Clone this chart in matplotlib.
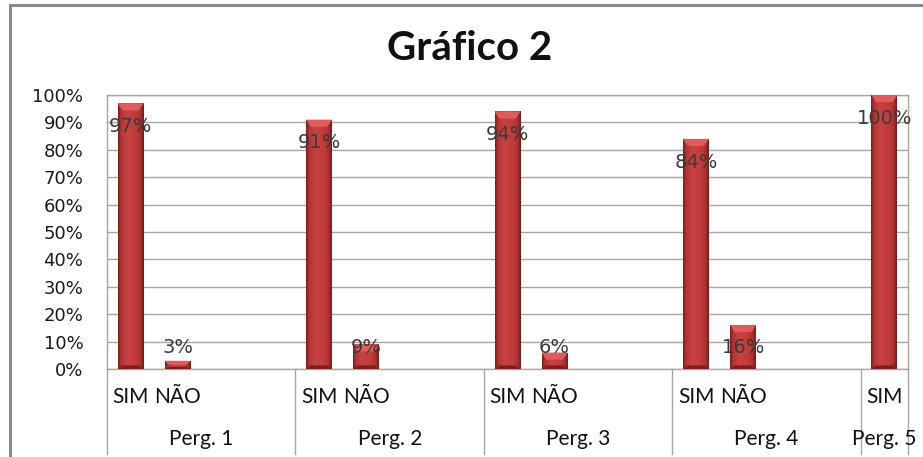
import numpy as np
import matplotlib
matplotlib.use("Agg")
import matplotlib.pyplot as plt
from matplotlib.colors import LinearSegmentedColormap
from matplotlib.patches import Rectangle, Polygon

# data
groups = ["Perg. 1", "Perg. 2", "Perg. 3", "Perg. 4", "Perg. 5"]
sim = [97, 91, 94, 84, 100]
nao = [3, 9, 6, 16, None]
slots_per_group = [4, 4, 4, 4, 1]

# build the flat category list (Excel style multi-level axis)
cat_labels = []
values = []
group_starts = []
for g, n in enumerate(slots_per_group):
    group_starts.append(len(cat_labels))
    cat_labels.append("SIM")
    values.append(sim[g])
    if n > 1:
        cat_labels.append("NÃO")
        values.append(nao[g])
        for k in range(n - 2):
            cat_labels.append("")
            values.append(None)
ncat = len(cat_labels)
x = np.arange(ncat)

W, H = 923, 457
fig = plt.figure(figsize=(W / 100, H / 100), dpi=100)
fig.patch.set_facecolor("white")

# outer chart frame (cut off on the right/bottom like the original)
fig.patches.append(Rectangle((10 / W, -0.1), 1.2, 1 - 5 / H + 0.1, transform=fig.transFigure,
                             fill=False, edgecolor="#8a8a8a", linewidth=2.2))

ax = fig.add_axes([107 / W, 1 - 369 / H, (908 - 107) / W, (369 - 95) / H])
ax.set_xlim(-0.5, ncat - 0.5)
ax.set_ylim(0, 100)

# gradient for the bevelled bar look
cmap = LinearSegmentedColormap.from_list(
    "barshade",
    [(0.0, "#7a1c1c"), (0.12, "#b23434"), (0.35, "#c94242"), (0.7, "#c23b3b"),
     (0.88, "#ab3030"), (1.0, "#761a1a")])
grad = np.linspace(0, 1, 128).reshape(1, -1)
bw = 0.55
for xi, v in zip(x, values):
    if v is None:
        continue
    b = ax.bar(xi, v, width=bw, color="#c23a3a", zorder=3)[0]
    im = ax.imshow(grad, cmap=cmap, aspect="auto", extent=(xi - bw / 2, xi + bw / 2, 0, v),
                   zorder=4, interpolation="bilinear")
    im.set_clip_path(b)
    bev = min(2.6, v * 0.5)
    ax.add_patch(Polygon([(xi - bw / 2, v), (xi + bw / 2, v), (xi + bw / 2 - 0.1, v - bev),
                          (xi - bw / 2 + 0.1, v - bev)], closed=True,
                         facecolor="#e05b5b", edgecolor="none", zorder=5))
    ax.add_patch(Polygon([(xi - bw / 2, 0), (xi + bw / 2, 0), (xi + bw / 2 - 0.1, bev * 0.5),
                          (xi - bw / 2 + 0.1, bev * 0.5)], closed=True,
                         facecolor="#7e1d1d", edgecolor="none", zorder=5))
    if cat_labels[xi] == "SIM":
        ly = v - 8.5
    else:
        ly = 7.7
    ax.text(xi, ly, "%d%%" % v, ha="center", va="center", fontsize=14,
            color="#3a3a3a", family="DejaVu Sans", zorder=6)

ax.set_yticks(np.arange(0, 101, 10))
ax.set_yticklabels(["%d%%" % t for t in range(0, 101, 10)], fontsize=13, family="DejaVu Sans", color="#1a1a1a")
ax.tick_params(axis="y", length=0, pad=17)
ax.yaxis.grid(True, color="#a6a6a6", linewidth=1)
ax.set_axisbelow(True)
for s in ax.spines.values():
    s.set_color("#a6a6a6")
    s.set_linewidth(1)

ax.set_xticks(x)
ax.set_xticklabels(cat_labels, fontsize=15, family="Lato", color="#111111")
ax.tick_params(axis="x", length=0, pad=13)

# group dividers and group labels
trans = ax.get_xaxis_transform()
bounds = group_starts + [ncat]
for b in bounds:
    ax.plot([b - 0.5, b - 0.5], [0, -0.31], transform=trans, color="#a6a6a6",
            linewidth=1, clip_on=False)
for g, name in enumerate(groups):
    cx = (bounds[g] + bounds[g + 1] - 1) / 2
    ax.text(cx, -0.255, name, transform=trans, ha="center", va="center",
            fontsize=15, family="Lato", color="#111111")

fig.text(470 / W, 1 - 48 / H, "Gráfico 2", ha="center", va="center",
         fontsize=29, fontweight="bold", family="Lato", color="#111111")

fig.savefig("out.png", dpi=100)
